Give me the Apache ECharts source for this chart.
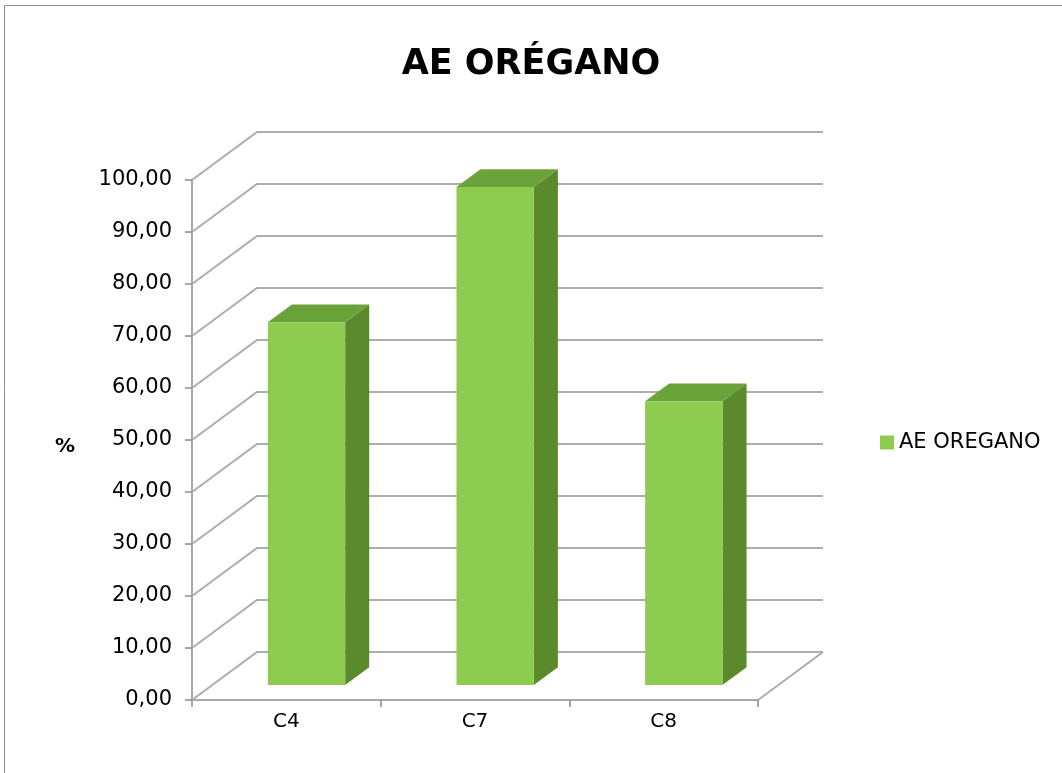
<!DOCTYPE html>
<html>
<head>
<meta charset="utf-8">
<script src="https://cdn.jsdelivr.net/npm/echarts@6/dist/echarts.min.js"></script>
<style>
html,body{margin:0;padding:0;background:#fff;}
#chart{width:1062px;height:773px;}
</style>
</head>
<body>
<div id="chart"></div>
<script>
const titleText = 'AE ORÉGANO';
const seriesName = 'AE OREGANO';
const categories = ['C4', 'C7', 'C8'];
const values = [69.8, 95.8, 54.6];
const yTicks = [0, 10, 20, 30, 40, 50, 60, 70, 80, 90, 100];
const yAxisName = '%';

const FONT = 'DejaVu Sans';
// 3D depth offsets (pixels)
const WALL_DX = 65, WALL_DY = -48;
const BAR_FRONT = 0.31;   // depth fraction of bar front face
const BAR_DEPTH = 0.37;   // bar depth as fraction of wall depth
const BAR_W = 0.41;       // bar width as fraction of band

const chart = echarts.init(document.getElementById('chart'));

function wallItem(params, api) {
  const cs = params.coordSys;
  const v = api.value(1);
  const y = api.coord([0, v])[1];
  const gx = cs.x, gw = cs.width;
  const style = {stroke: '#ADADAD', lineWidth: 2, fill: null};
  const children = [{
    type: 'polyline',
    shape: {points: [[gx, y], [gx + WALL_DX, y + WALL_DY], [gx + gw + WALL_DX, y + WALL_DY]]},
    style: style
  }];
  if (v === 0) {
    children.push({
      type: 'line',
      shape: {x1: gx + gw, y1: y, x2: gx + gw + WALL_DX, y2: y + WALL_DY},
      style: style
    });
  }
  return {type: 'group', children: children};
}

function barItem(params, api) {
  const idx = api.value(0);
  const v = api.value(1);
  const p0 = api.coord([idx, 0]);
  const pv = api.coord([idx, v]);
  const band = api.size([1, 0])[0];
  const w = band * BAR_W;
  const ox = WALL_DX * BAR_FRONT, oy = WALL_DY * BAR_FRONT;
  const dx = WALL_DX * BAR_DEPTH, dy = WALL_DY * BAR_DEPTH;
  const x1 = p0[0] + ox - w / 2, x2 = x1 + w;
  const yb = p0[1] + oy, yt = pv[1] + oy;
  return {
    type: 'group',
    children: [
      {type: 'polygon', shape: {points: [[x2, yb], [x2 + dx, yb + dy], [x2 + dx, yt + dy], [x2, yt]]},
       style: {fill: '#5B8A2D'}},
      {type: 'polygon', shape: {points: [[x1, yt], [x1 + dx, yt + dy], [x2 + dx, yt + dy], [x2, yt]]},
       style: {fill: '#6AA33A'}},
      {type: 'rect', shape: {x: x1, y: yt, width: w, height: yb - yt},
       style: {fill: '#8DCC4E'}}
    ]
  };
}

chart.setOption({
  animation: false,
  backgroundColor: '#ffffff',
  title: {
    text: titleText,
    left: 'center',
    top: 42,
    textStyle: {fontFamily: FONT, fontSize: 35, fontWeight: 'bold', color: '#000'}
  },
  legend: {
    data: [seriesName],
    left: 875,
    top: 427,
    itemWidth: 14,
    itemHeight: 14,
    icon: 'rect',
    textStyle: {fontFamily: FONT, fontSize: 21, color: '#000'}
  },
  graphic: [{
    type: 'rect',
    shape: {x: 4.5, y: 5.5, width: 1200, height: 900},
    style: {fill: null, stroke: '#8A8A8A', lineWidth: 1},
    silent: true
  }],
  grid: {left: 192, top: 180, right: 304, bottom: 73},
  xAxis: {
    type: 'category',
    data: categories,
    axisLine: {lineStyle: {color: '#8C8C8C', width: 1.5}},
    axisTick: {show: true, length: 7, lineStyle: {color: '#8C8C8C', width: 1.5}},
    axisLabel: {fontFamily: FONT, fontSize: 20, color: '#000', margin: 12},
    splitLine: {show: false}
  },
  yAxis: {
    type: 'value',
    min: 0,
    max: 100,
    interval: 10,
    name: yAxisName,
    nameLocation: 'middle',
    nameRotate: 0,
    nameGap: 117,
    nameTextStyle: {fontFamily: FONT, fontSize: 20, fontWeight: 'bold', color: '#000',
      verticalAlign: 'top', lineHeight: 14},
    axisLine: {show: true, lineStyle: {color: '#8C8C8C', width: 1.5}},
    axisTick: {show: true, length: 7, lineStyle: {color: '#8C8C8C', width: 1.5}},
    axisLabel: {fontFamily: FONT, fontSize: 21, color: '#000', margin: 20,
      formatter: v => v.toFixed(2).replace('.', ',')},
    splitLine: {show: false}
  },
  series: [
    {
      name: 'walls',
      type: 'custom',
      silent: true,
      z: 1,
      clip: false,
      encode: {x: 0, y: 1},
      data: yTicks.map(v => [0, v]),
      renderItem: wallItem
    },
    {
      name: seriesName,
      type: 'custom',
      z: 3,
      clip: false,
      itemStyle: {color: '#8DCC4E'},
      encode: {x: 0, y: 1},
      data: values.map((v, i) => [i, v]),
      renderItem: barItem
    }
  ]
});
</script>
</body>
</html>
